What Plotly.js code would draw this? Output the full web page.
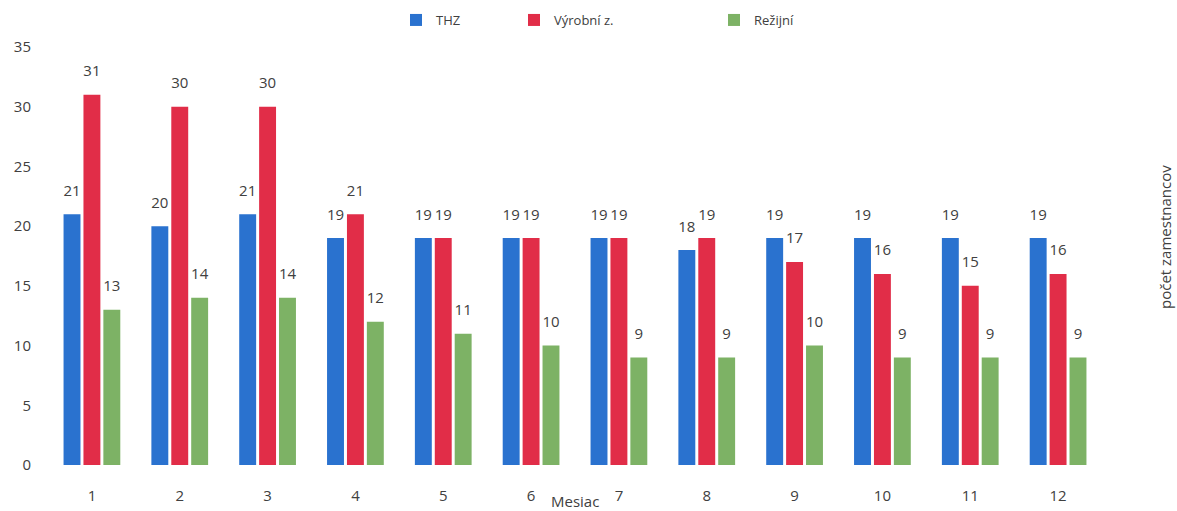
<!DOCTYPE html>
<html><head><meta charset="utf-8">
<script src="https://cdn.plot.ly/plotly-3.0.1.min.js"></script>
<style>html,body{margin:0;padding:0;background:#fff}</style>
</head><body>
<div id="chart" style="width:1177px;height:511px"></div>
<script>
const months = ['1','2','3','4','5','6','7','8','9','10','11','12'];
const thz = [21,20,21,19,19,19,19,18,19,19,19,19];
const vyrobni = [31,30,30,21,19,19,19,19,17,16,15,16];
const rezijni = [13,14,14,12,11,10,9,9,10,9,9,9];
const seriesNames = ['THZ','Výrobní z.','Režijní'];
const colors = ['#2a72cf','#e12d48','#7db265'];

const txtFont = {family:'Open Sans, sans-serif', size:15, color:'#404040'};
const series = [thz, vyrobni, rezijni];
const legs = ['legend','legend2','legend3'];
const data = [];
series.forEach((y,i)=>{
  data.push({type:'bar', x:months, y:y, name:seriesNames[i], marker:{color:colors[i]},
    offsetgroup:'g'+i, legend:legs[i]});
});
series.forEach((y,i)=>{
  data.push({type:'scatter', mode:'markers+text', x:months, y:y, text:y.map(String),
    textposition:'top center', textfont:txtFont, offsetgroup:'g'+i,
    marker:{size:22, opacity:0, color:colors[i]}, showlegend:false, cliponaxis:false,
    hoverinfo:'skip'});
});
const legBase = {orientation:'h', yanchor:'middle', xanchor:'left', yref:'container', y:1-20/511,
  font:{family:'Open Sans, sans-serif', size:13, color:'#404040'}, bgcolor:'rgba(0,0,0,0)'};
const layout = {
  width:1177, height:511,
  margin:{l:48, r:75, t:47, b:46},
  paper_bgcolor:'#fff', plot_bgcolor:'#fff',
  bargap:0.32, bargroupgap:0.15, barmode:'group',
  scattermode:'group', scattergap:0.32,
  font:{family:'Open Sans, sans-serif', color:'#595959'},
  xaxis:{type:'category', showgrid:false, zeroline:false, showline:false, ticks:'',
    tickfont:{size:15, color:'#404040'}, ticklabelstandoff:20, automargin:false},
  yaxis:{range:[0,35], dtick:5, showgrid:false, zeroline:false, showline:false,
    tickfont:{size:15, color:'#404040'}, ticklabelstandoff:16, automargin:false},
  showlegend:true,
  legend:Object.assign({}, legBase, {xref:'container', x:396/1177}),
  legend2:Object.assign({}, legBase, {xref:'container', x:514/1177}),
  legend3:Object.assign({}, legBase, {xref:'container', x:714/1177}),
  annotations:[
    {text:'Mesiac', xref:'paper', yref:'paper', x:(575-48)/1054, y:-(501-465)/418, yanchor:'middle',
      showarrow:false, font:{family:'Open Sans, sans-serif', size:15, color:'#404040'}},
    {text:'počet zamestnancov', xref:'paper', yref:'paper', x:(1165-48)/1054, y:(465-237)/418,
      xanchor:'center', yanchor:'middle', textangle:-90, showarrow:false,
      font:{family:'Open Sans, sans-serif', size:15, color:'#404040'}}
  ]
};
Plotly.newPlot('chart', data, layout, {displayModeBar:false, staticPlot:true});
</script>
</body></html>
